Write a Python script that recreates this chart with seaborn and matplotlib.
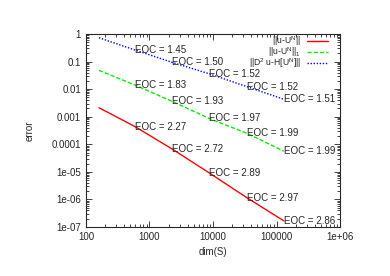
import numpy as np
import pandas as pd
import matplotlib
matplotlib.use('Agg')
import matplotlib.pyplot as plt
import seaborn as sns
from matplotlib.ticker import LogLocator, FuncFormatter, NullFormatter

# --- data ---
dims = [160, 590, 2260, 8650, 34300, 131000]
err_l2 = [2.12e-3, 4.4e-4, 6.8e-5, 9.3e-6, 1.15e-6, 1.66e-7]
err_h1 = [0.048, 0.0141, 0.00363, 0.00087, 0.00025, 5.6e-5]
err_h2 = [0.73, 0.263, 0.094, 0.0363, 0.0123, 0.00428]
eoc_l2 = ['2.27', '2.72', '2.89', '2.97', '2.86']
eoc_h1 = ['1.83', '1.93', '1.97', '1.99', '1.99']
eoc_h2 = ['1.45', '1.50', '1.52', '1.52', '1.51']
names = [r'$||$u-U$^{\rm N}||$', r'$||$u-U$^{\rm N}||_1$', r'$||$D$^2$ u-H[U$^{\rm N}$]$||$']
colors = ['#ff0000', '#00ee00', '#0000ff']
dashes = [(None, None), (3, 1.5), (1, 1.2)]

sns.set_style('ticks')
plt.rcParams['font.family'] = ['Liberation Sans', 'DejaVu Sans']
plt.rcParams['font.size'] = 7
plt.rcParams['mathtext.fontset'] = 'custom'
plt.rcParams['mathtext.rm'] = 'Liberation Sans'

df = pd.DataFrame({
    'dim': dims * 3,
    'error': err_l2 + err_h1 + err_h2,
    'norm': [names[0]] * 6 + [names[1]] * 6 + [names[2]] * 6,
})

fig = plt.figure(figsize=(3.9, 2.76), dpi=100)
ax = fig.add_axes([0.2205, 0.1775, 0.6513, 0.6993])

sns.lineplot(data=df, x='dim', y='error', hue='norm', style='norm',
             palette=colors, dashes=dashes, linewidth=1.0, ax=ax)
ax.set_xscale('log')
ax.set_yscale('log')
ax.set_xlim(100, 1e6)
ax.set_ylim(1e-7, 1)

# EOC labels at the end of each segment
for errs, eocs in [(err_l2, eoc_l2), (err_h1, eoc_h1), (err_h2, eoc_h2)]:
    for i, e in enumerate(eocs):
        ax.text(dims[i + 1], errs[i + 1], 'EOC = ' + e, fontsize=7,
                ha='left', va='center')

fmt = FuncFormatter(lambda v, p: '%g' % v)
ax.xaxis.set_major_locator(LogLocator(base=10, numticks=10))
ax.yaxis.set_major_locator(LogLocator(base=10, numticks=10))
ax.xaxis.set_minor_locator(LogLocator(base=10, subs=np.arange(2, 10), numticks=10))
ax.yaxis.set_minor_locator(LogLocator(base=10, subs=np.arange(2, 10), numticks=10))
ax.xaxis.set_major_formatter(fmt)
ax.yaxis.set_major_formatter(fmt)
ax.xaxis.set_minor_formatter(NullFormatter())
ax.yaxis.set_minor_formatter(NullFormatter())
ax.tick_params(which='both', direction='in', top=True, right=True, labelsize=7, width=0.6)
ax.tick_params(which='major', length=4)
ax.tick_params(which='minor', length=2)
for s in ax.spines.values():
    s.set_linewidth(0.8)

ax.set_xlabel('dim(S)', fontsize=7)
ax.set_ylabel('error', fontsize=7, labelpad=12)

leg = ax.legend(loc='upper right', bbox_to_anchor=(0.965, 1.015), frameon=False,
                markerfirst=False, fontsize=6.2, handlelength=2.4, handletextpad=0.7,
                borderaxespad=0.0, labelspacing=-0.3, title=None)
for t in leg.get_texts():
    t.set_ha('right')

fig.savefig('out.png', dpi=100)
